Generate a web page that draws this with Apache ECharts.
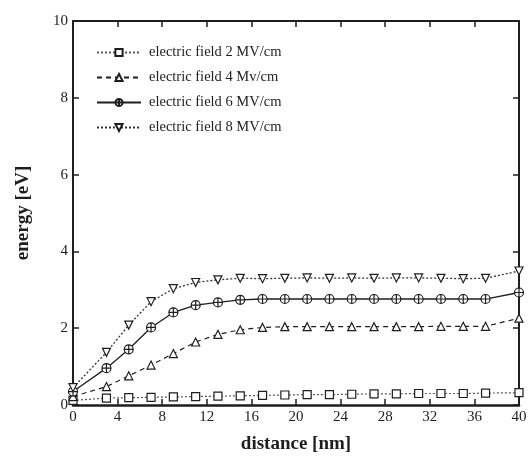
<!DOCTYPE html>
<html lang="en">
<head>
	<meta charset="UTF-8">
	<title>energy vs distance</title>
	<script type="text/javascript" src="https://cdn.jsdelivr.net/npm/echarts@6/dist/echarts.min.js"></script>
	<style type="text/css">
	html, body{margin: 0; padding: 0; background: #fff;}
	#container{width: 530px; height: 459px;}
	</style>
</head>
<body>
	<div id="container"></div>
	<script type="text/javascript">
		// data
		var distance = [0, 3, 5, 7, 9, 11, 13, 15, 17, 19, 21, 23, 25, 27, 29, 31, 33, 35, 37, 40];
		var field2 = [0.12, 0.18, 0.19, 0.20, 0.21, 0.22, 0.23, 0.24, 0.25, 0.26, 0.27, 0.27, 0.28, 0.29, 0.29, 0.30, 0.30, 0.30, 0.31, 0.32];
		var field4 = [0.22, 0.48, 0.76, 1.04, 1.34, 1.64, 1.84, 1.96, 2.02, 2.04, 2.04, 2.04, 2.04, 2.04, 2.04, 2.04, 2.05, 2.05, 2.05, 2.26];
		var field6 = [0.35, 0.96, 1.45, 2.02, 2.41, 2.60, 2.67, 2.74, 2.76, 2.76, 2.76, 2.76, 2.76, 2.76, 2.76, 2.76, 2.76, 2.76, 2.76, 2.93];
		var field8 = [0.45, 1.37, 2.08, 2.69, 3.03, 3.19, 3.26, 3.30, 3.29, 3.30, 3.31, 3.30, 3.31, 3.30, 3.31, 3.31, 3.30, 3.29, 3.30, 3.49];
		var seriesNames = ['electric field 2 MV/cm', 'electric field 4 Mv/cm', 'electric field 6 MV/cm', 'electric field 8 MV/cm'];
		var xTicks = [0, 40, 4];
		var yTicks = [0, 10, 2];

		var ink = '#1e1e1e';
		var serif = '"Liberation Serif", "DejaVu Serif", serif';

		function pairs(ys){
			var out = [];
			for (var i = 0; i < distance.length; i++) {
				out.push([distance[i], ys[i]]);
			}
			return out;
		}

		var circlePlus = 'path://M0,5A5,5 0 1,1 10,5A5,5 0 1,1 0,5ZM5,0L5,10M0,5L10,5';
		var downTri = 'path://M0,0L10,0L5,9Z';

		function axisBase(pos, show){
			return {
				axisLine: {show: true, onZero: false, lineStyle: {color: ink, width: 2}},
				axisTick: {show: true, inside: true, length: 6, lineStyle: {color: ink, width: 1.5}},
				splitLine: {show: false},
				axisLabel: {show: show, color: ink, fontFamily: serif, fontSize: 15, margin: 5},
				position: pos
			};
		}

		var xBottom = axisBase('bottom', true);
		xBottom.type = 'value'; xBottom.min = xTicks[0]; xBottom.max = xTicks[1]; xBottom.interval = xTicks[2];
		xBottom.name = 'distance [nm]'; xBottom.nameLocation = 'middle'; xBottom.nameGap = 30;
		xBottom.nameTextStyle = {color: ink, fontFamily: serif, fontSize: 19, fontWeight: 'bold'};
		xBottom.axisLine.lineStyle.width = 2.5;
		var xTop = axisBase('top', false);
		xTop.type = 'value'; xTop.min = xTicks[0]; xTop.max = xTicks[1]; xTop.interval = xTicks[2];

		var yLeft = axisBase('left', true);
		yLeft.type = 'value'; yLeft.min = yTicks[0]; yLeft.max = yTicks[1]; yLeft.interval = yTicks[2];
		yLeft.name = 'energy [eV]'; yLeft.nameLocation = 'middle'; yLeft.nameGap = 40;
		yLeft.nameTextStyle = {color: ink, fontFamily: serif, fontSize: 19, fontWeight: 'bold'};
		var yRight = axisBase('right', false);
		yRight.type = 'value'; yRight.min = yTicks[0]; yRight.max = yTicks[1]; yRight.interval = yTicks[2];

		function line(name, ys, symbol, size, type, width, color){
			return {
				name: name,
				type: 'line',
				xAxisIndex: 0,
				yAxisIndex: 0,
				data: pairs(ys),
				symbol: symbol,
				symbolSize: size,
				showAllSymbol: true,
				lineStyle: {color: color, width: width, type: type},
				itemStyle: {color: '#fff', borderColor: ink, borderWidth: 1.2},
				emphasis: {disabled: true},
				z: 3
			};
		}

		var dom = document.getElementById('container');
		var myChart = echarts.init(dom);
		var option = {
			animation: false,
			backgroundColor: '#fff',
			grid: {left: 73, right: 11, top: 21, bottom: 53},
			legend: {
				orient: 'vertical',
				left: 91,
				top: 40,
				itemWidth: 44,
				itemHeight: 9,
				itemGap: 10,
				data: seriesNames,
				textStyle: {color: ink, fontFamily: serif, fontSize: 14.5, padding: [0, 0, 0, 3]}
			},
			xAxis: [xBottom, xTop],
			yAxis: [yLeft, yRight],
			series: [
				line(seriesNames[0], field2, 'rect', 8, [2, 2], 1.2, '#555'),
				line(seriesNames[1], field4, 'triangle', 8, [5, 4], 1.2, ink),
				line(seriesNames[2], field6, circlePlus, 9, 'solid', 1.3, ink),
				line(seriesNames[3], field8, downTri, 8, [2, 2], 1.3, '#333')
			]
		};
		myChart.setOption(option, true);
	</script>
</body>
</html>
